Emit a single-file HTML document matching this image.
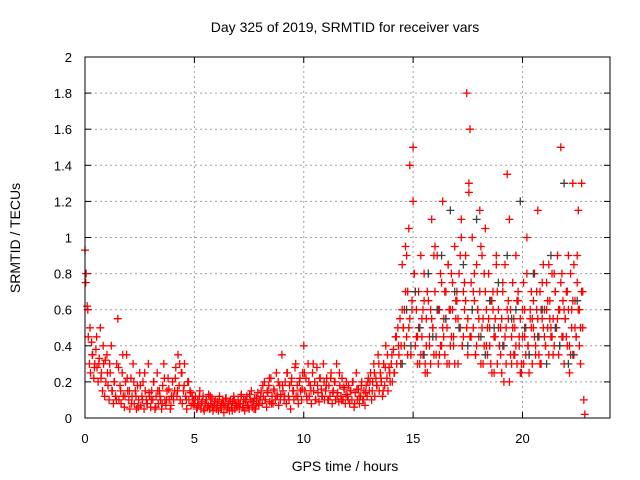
<!DOCTYPE html>
<html><head><meta charset="utf-8"><style>
body{margin:0;background:#fff}
svg{display:block;font-family:"Liberation Sans",sans-serif}
</style></head><body>
<svg id="chart" width="640" height="480">
<text x="345" y="32" font-size="14" text-anchor="middle">Day 325 of 2019, SRMTID for receiver vars</text>
<text x="20" y="238" font-size="14" text-anchor="middle" transform="rotate(-90 20 238)">SRMTID / TECUs</text>
<text x="345" y="471" font-size="14" text-anchor="middle">GPS time / hours</text>
<g id="grid"></g>
<g id="ticks"></g>
<g id="red"></g>
<g id="dark"></g>
<rect x="85" y="57" width="525" height="361" fill="none" stroke="#000" stroke-width="1"/>
</svg>
<script>
const xTicks=[0,5,10,15,20];
const yTicks=[0,0.2,0.4,0.6,0.8,1,1.2,1.4,1.6,1.8,2];
const yTickLabels=["0","0.2","0.4","0.6","0.8","1","1.2","1.4","1.6","1.8","2"];
const redStart=0, redStep=0.05;
const redY=[.93,.8,.62,.45,.3,.25,.42,.35,.22,.3,.38,.28,.2,.33,.5,.25,.15,.3,.12,.2,
.35,.18,.1,.25,.4,.15,.08,.2,.12,.3,.55,.1,.18,.08,.25,.12,.06,.2,.35,.15,
.1,.05,.22,.12,.3,.08,.15,.05,.18,.1,.25,.07,.12,.2,.05,.15,.1,.08,.3,.12,
.06,.15,.1,.2,.05,.12,.25,.08,.15,.1,.05,.18,.3,.1,.07,.15,.22,.1,.05,.12,
.2,.1,.15,.28,.12,.35,.18,.1,.25,.08,.15,.3,.12,.05,.2,.1,.15,.07,.12,.1,
.08,.12,.05,.1,.07,.15,.05,.09,.12,.04,.08,.1,.06,.13,.05,.08,.11,.04,.07,.1,
.05,.09,.04,.12,.06,.08,.1,.03,.07,.11,.05,.08,.04,.1,.06,.09,.12,.05,.08,.06,
.1,.05,.08,.13,.06,.1,.04,.09,.12,.07,.05,.1,.15,.06,.09,.11,.05,.08,.14,.07,
.1,.15,.08,.12,.2,.1,.06,.14,.18,.09,.22,.12,.08,.15,.1,.25,.12,.07,.18,.13,
.35,.15,.1,.2,.08,.25,.12,.18,.05,.22,.15,.1,.28,.12,.18,.08,.2,.15,.1,.25,
.4,.15,.22,.1,.3,.12,.18,.08,.25,.15,.2,.1,.28,.14,.09,.22,.16,.12,.3,.1,
.15,.22,.1,.18,.12,.25,.08,.15,.2,.1,.3,.14,.09,.18,.12,.22,.1,.16,.08,.2,
.12,.18,.08,.15,.1,.2,.06,.14,.25,.1,.16,.08,.12,.2,.1,.15,.07,.18,.12,.22,
.15,.25,.1,.2,.3,.12,.22,.18,.35,.15,.25,.2,.12,.3,.18,.4,.22,.15,.28,.2,
.3,.2,.38,.25,.45,.3,.5,.35,.55,.4,.85,.5,.6,.95,.45,.7,1.05,.55,.35,.65,
1.5,.8,.4,.6,.3,.7,.5,.9,.45,.35,.65,.3,.55,.25,.8,.4,.6,1.1,.5,.35,
.7,.45,.9,.3,.6,.8,.4,1.2,.55,.35,.7,.5,.85,.3,.6,.45,.75,.4,.95,.55,
.65,.3,.8,.5,1.1,.4,.7,.6,.9,1.8,.55,1.3,.45,.75,1.0,.5,.65,.35,.85,.6,
.45,.7,.3,.9,.55,.4,1.05,.6,.35,.8,.5,.65,.25,.7,.45,.55,.9,.3,.6,.4,
.5,.25,.7,.4,.85,.3,1.35,.55,.2,.6,.45,.75,.35,.5,.9,.3,.65,.4,.55,.25,
.45,.3,.6,.35,1.0,.4,.25,.55,.7,.3,.5,.8,.35,.6,1.15,.45,.7,.3,.55,.85,
.6,.4,.75,.5,.35,.65,.45,.8,.55,.4,.7,.5,.9,.35,.6,1.5,.45,.65,.3,.55,
.7,.4,.6,.25,.8,.5,1.3,.35,.65,.45,.9,1.15,.6,.3,.7,.5,.1,.02];
const red2Start=14.5, red2Step=0.1;
const red2Y=[.6,.4,.9,.5,.35,1.2,.7,.45,.3,.55,.8,.4,.65,.3,.5,.95,.6,.35,.75,.45,
.55,.85,.4,.6,.3,.7,.5,1.0,.45,.65,.35,1.6,.6,.8,.4,.55,.95,.3,.7,.5,
.4,.65,.25,.85,.5,.35,.75,.45,.6,1.1,.3,.55,.4,.7,.25,.6,.45,.8,.35,.5,
.65,.4,.55,.3,.75,.45,.6,.85,.5,.35,.7,.55,.4,.8,.6,.45,.9,.35,.65,.5,.75,.4,1.3];
const red3Start=0.03, red3Step=0.1;
const red3Y=[.75,.6,.5,.35,.28,.45,.3,.22,.4,.32,
.25,.3,.15,.2,.1,.28,.15,.35,.12,.22,
.15,.08,.2,.12,.06,.18,.1,.25,.08,.14,
.1,.2,.06,.15,.12,.08,.22,.1,.16,.07,
.12,.22,.15,.3,.25,.18,.1,.2,.14,.08,
.1,.06,.12,.08,.05,.1,.07,.12,.06,.09,
.07,.1,.05,.08,.11,.06,.09,.04,.1,.07,
.08,.12,.06,.1,.07,.13,.09,.05,.11,.08,
.12,.18,.1,.15,.22,.08,.16,.12,.2,.1,
.18,.12,.25,.1,.2,.15,.3,.12,.22,.16,
.25,.12,.2,.15,.3,.1,.18,.22,.12,.2,
.18,.1,.22,.14,.2,.12,.25,.1,.17,.13,
.1,.15,.2,.08,.16,.12,.18,.1,.14,.2,
.2,.15,.25,.18,.3,.22,.15,.28,.35,.25,
.35,.25,.45,.4,.3];
const red4Start=14.55, red4Step=0.1;
const red4Y=[.5,.7,.35,1.4,.6,.8,.45,.5,.35,.6,
.25,.7,.45,.55,.9,.35,.6,.4,.5,.7,
.3,.6,.8,.45,.65,.55,.9,.4,.75,.5,
1.25,.45,.7,.35,.6,1.15,.5,.8,.4,.55,
.3,.6,.45,.7,.4,.55,.2,.5,.65,.35,
.5,.35,.65,.45,.3,.75,.5,.4,.6,.55,
.45,.7,.35,.6,.5,.4,.65,.55,.45,.8,
.5,.6,.75,.45,.55,.7,.4,.6,.85,.45,
.6,.5,.7];
const darkStart=14.5, darkStep=0.2;
const darkY=[.3,.6,.4,.7,.5,.35,.8,.45,.6,.9,.55,1.15,.7,.5,.85,.4,.6,1.1,.45,.35,.65,.5,.75,.4,.9,.55,.6,1.2,.5,.35,.8,.45,.6,.3,.9,.5,.4,1.3,.3,.35,.65];

const X0=85,X1=610,Y0=418,Y1=57,XMAX=24,YMAX=2;
const sx=v=>X0+v/XMAX*(X1-X0);
const sy=v=>Y0-v/YMAX*(Y0-Y1);
const NS="http://www.w3.org/2000/svg";
const grid=document.getElementById('grid'),ticks=document.getElementById('ticks');
function mk(tag,at,parent){const e=document.createElementNS(NS,tag);for(const k in at)e.setAttribute(k,at[k]);parent.appendChild(e);return e;}
xTicks.forEach(t=>{
  const x=sx(t);
  if(t>0){const g=mk('line',{x1:x,x2:x,y1:Y0,y2:Y1,stroke:'#a0a0a0','stroke-dasharray':'2,3'},grid);
  
  }
  mk('line',{x1:x,x2:x,y1:Y0,y2:Y0-6,stroke:'#000'},ticks);
  mk('line',{x1:x,x2:x,y1:Y1,y2:Y1+6,stroke:'#000'},ticks);
  const l=mk('text',{x:x,y:443,'font-size':13,'text-anchor':'middle'},ticks);l.textContent=t;
  
  
});
yTicks.forEach((t,i)=>{
  const y=sy(t);
  if(t>0&&t<2){const g=mk('line',{x1:X0,x2:X1,y1:y,y2:y,stroke:'#a0a0a0','stroke-dasharray':'2,3'},grid);
  
  }
  mk('line',{x1:X0,x2:X0+6,y1:y,y2:y,stroke:'#000'},ticks);
  mk('line',{x1:X1,x2:X1-6,y1:y,y2:y,stroke:'#000'},ticks);
  const l=mk('text',{x:72,y:y+5,'font-size':13,'text-anchor':'end'},ticks);l.textContent=yTickLabels[i];
  
  
});
function plus(arr,start,step,color,gid,name){
  let d='';
  arr.forEach((v,i)=>{const x=sx(start+step*i),y=sy(v);d+=`M${(x-4).toFixed(1)} ${y.toFixed(1)}h8M${x.toFixed(1)} ${(y-4).toFixed(1)}v8`;});
  const p=mk('path',{d:d,stroke:color,'stroke-width':1.3,fill:'none'},document.getElementById(gid));
  
  
}
plus(redY,redStart,redStep,'#ff0000','red','red-points');
plus(red2Y,red2Start,red2Step,'#ff0000','red','red-points-2');
plus(red3Y,red3Start,red3Step,'#ff0000','red','red-points-3');
plus(red4Y,red4Start,red4Step,'#ff0000','red','red-points-4');
plus(darkY,darkStart,darkStep,'#404040','dark','dark-points');
</script>
</body></html>
